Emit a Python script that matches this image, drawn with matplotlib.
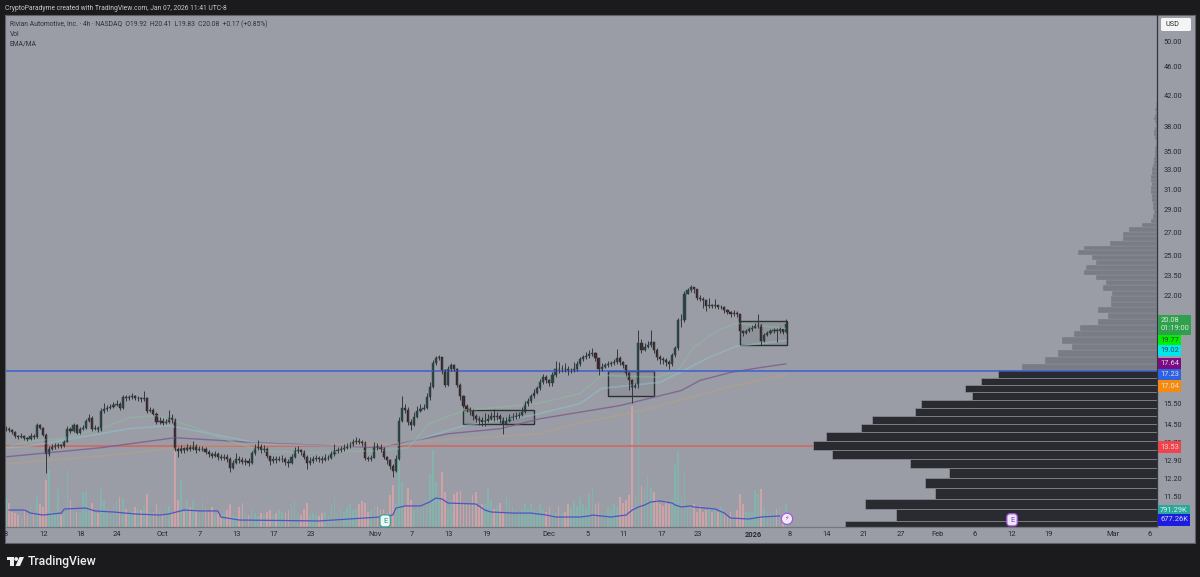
import numpy as np
import matplotlib
matplotlib.use("Agg")
import matplotlib.pyplot as plt
from matplotlib.patches import Rectangle, FancyBboxPatch, Circle, Polygon
from matplotlib.ticker import NullLocator, NullFormatter

closes = [
    14.31,14.27,14.18,13.99,13.94,13.99,13.90,13.85,13.99,13.94,
    14.50,14.36,14.04,13.20,13.42,13.50,13.54,13.58,13.54,13.72,
    14.31,14.22,14.50,14.13,14.31,14.36,14.69,14.83,14.31,14.36,
    14.27,15.17,15.27,15.32,15.37,15.47,15.52,15.32,15.83,15.78,
    15.83,15.88,15.78,15.78,15.73,15.78,15.17,15.22,15.03,14.64,
    14.69,14.59,14.64,14.83,14.73,13.42,13.33,13.46,13.37,13.50,
    13.42,13.54,13.37,13.42,13.42,13.29,13.20,13.11,13.20,13.07,
    13.03,13.07,12.99,12.61,12.81,12.99,12.94,12.85,12.90,12.81,
    13.24,13.46,13.50,13.37,13.42,13.11,12.90,12.99,12.94,12.99,
    12.99,12.85,12.81,13.07,13.33,13.37,13.29,13.07,12.81,12.90,
    12.99,13.03,12.99,12.94,13.03,13.03,13.20,13.33,13.37,13.42,
    13.46,13.54,13.58,13.72,13.76,13.72,13.67,13.03,12.99,13.03,
    13.54,13.50,13.42,13.07,12.94,12.69,12.49,12.99,14.69,15.32,
    15.22,14.64,14.50,14.88,15.17,15.27,15.32,15.83,16.35,17.69,
    17.96,18.02,17.27,16.46,17.38,17.55,17.38,16.46,15.88,15.42,
    15.27,15.17,14.93,14.78,14.73,14.64,14.69,14.78,14.93,14.88,
    14.93,14.78,14.55,14.69,14.83,14.88,14.93,14.97,15.12,15.52,
    15.67,15.88,16.08,16.30,16.62,16.90,16.72,16.57,17.00,17.38,
    17.33,17.38,17.33,17.27,17.27,17.33,17.61,17.90,18.02,18.08,
    18.20,18.26,17.96,17.38,17.49,17.55,17.61,17.67,17.73,17.96,
    17.73,17.55,17.15,16.72,16.35,16.46,18.85,18.43,18.62,18.73,
    18.91,18.43,18.02,17.90,17.84,17.73,17.61,18.14,18.56,20.32,
    20.32,22.14,22.36,22.58,22.43,21.85,21.78,21.65,21.25,21.32,
    21.25,21.32,21.19,21.19,20.99,20.86,20.72,20.79,20.72,19.60,
    19.48,19.60,19.73,19.80,19.93,19.99,18.98,19.35,19.48,19.60,
    19.67,19.60,19.73,19.54,20.08]
highs = [
    14.42,14.38,14.30,14.22,14.02,14.10,14.04,13.95,14.12,14.05,
    14.56,14.55,14.40,14.10,13.55,13.60,13.66,13.68,13.64,13.80,
    14.42,14.40,14.60,14.55,14.40,14.48,14.75,15.00,14.90,14.48,
    14.42,15.30,15.55,15.45,15.50,15.60,15.70,15.60,15.95,15.95,
    15.95,16.05,15.95,15.92,15.85,16.15,15.85,15.35,15.30,15.10,
    14.85,14.80,14.75,15.20,15.00,14.80,13.50,13.58,13.50,13.62,
    13.58,13.75,13.62,13.52,13.52,13.50,13.36,13.28,13.32,13.26,
    13.18,13.20,13.18,13.05,12.95,13.25,13.12,13.05,13.02,13.00,
    13.32,13.62,13.78,13.60,13.58,13.50,13.12,13.10,13.12,13.12,
    13.15,13.05,12.98,13.18,13.50,13.52,13.42,13.35,13.15,13.05,
    13.12,13.15,13.12,13.10,13.18,13.16,13.32,13.60,13.50,13.55,
    13.60,13.66,13.72,13.85,13.95,13.88,13.80,13.75,13.12,13.15,
    13.72,13.66,13.60,13.48,13.12,12.98,12.75,13.15,14.85,15.90,
    15.50,15.35,14.78,15.10,15.42,15.50,15.50,16.05,16.65,17.85,
    18.10,18.15,18.05,17.35,17.52,17.70,17.62,17.42,16.60,15.95,
    15.52,15.35,15.25,15.02,14.90,14.85,15.05,15.00,15.08,15.25,
    15.10,15.02,14.88,14.85,15.00,15.05,15.08,15.12,15.35,15.65,
    15.82,16.00,16.25,16.45,16.82,17.05,17.00,16.78,17.18,17.80,
    17.75,17.60,17.72,17.50,17.42,17.75,17.80,18.05,18.15,18.35,
    18.45,18.55,18.35,18.00,17.70,17.68,17.80,17.80,17.90,18.50,
    18.10,17.80,17.60,17.20,16.78,16.60,19.70,19.10,18.88,19.00,
    19.70,18.95,18.55,18.15,18.05,18.00,17.85,18.30,18.70,20.45,
    20.70,22.30,22.55,22.72,22.62,22.50,22.00,21.90,21.65,21.85,
    21.42,21.75,21.35,21.30,21.25,21.05,20.95,21.00,20.92,20.75,
    19.65,19.72,19.88,20.00,20.10,20.70,20.05,19.48,19.62,19.75,
    19.80,19.78,19.88,19.72,20.41]
lows = [
    14.22,14.18,14.05,13.90,13.85,13.90,13.82,13.76,13.80,13.86,
    13.90,14.28,13.98,12.40,13.12,13.38,13.42,13.46,13.45,13.48,
    13.70,14.12,14.18,14.05,14.08,14.25,14.30,14.62,14.20,14.25,
    14.15,14.22,15.05,15.15,15.25,15.30,15.40,15.20,15.25,15.65,
    15.70,15.75,15.68,15.65,15.60,15.65,15.05,15.08,14.95,14.55,
    14.55,14.48,14.52,14.58,14.60,13.30,13.05,13.25,13.22,13.30,
    13.30,13.38,13.25,13.30,13.32,13.18,13.08,13.00,13.05,12.95,
    12.92,12.95,12.85,12.45,12.55,12.75,12.82,12.75,12.72,12.68,
    12.75,13.15,13.35,13.25,13.28,13.00,12.72,12.80,12.82,12.88,
    12.85,12.72,12.65,12.75,13.00,13.22,13.15,12.98,12.58,12.72,
    12.80,12.90,12.85,12.80,12.88,12.92,12.98,13.10,13.22,13.28,
    13.32,13.40,13.45,13.55,13.62,13.60,13.55,12.92,12.88,12.90,
    13.00,13.38,13.28,12.98,12.75,12.55,12.25,12.45,12.95,14.62,
    15.05,14.50,14.25,14.45,14.82,15.10,15.18,15.25,15.72,16.30,
    17.55,17.85,17.10,16.38,16.40,17.25,17.22,16.35,15.72,15.30,
    15.10,14.95,14.72,14.62,14.48,14.42,14.45,14.62,14.70,14.65,
    14.72,14.60,14.08,14.50,14.62,14.72,14.78,14.82,14.92,15.05,
    15.40,15.55,15.80,16.02,16.20,16.55,16.58,16.42,16.40,16.90,
    17.15,17.18,17.20,17.00,17.12,17.18,17.25,17.50,17.82,17.90,
    18.00,18.08,17.80,17.00,17.22,17.42,17.45,17.52,17.58,17.65,
    17.60,17.40,16.95,16.20,15.55,16.30,16.30,18.30,18.40,18.55,
    18.60,18.30,17.88,17.65,17.62,17.50,17.35,17.50,18.05,18.45,
    19.85,20.20,22.10,22.25,22.15,21.70,21.60,21.15,20.95,21.15,
    21.10,21.15,21.05,21.05,20.82,20.70,20.55,20.60,20.55,19.20,
    19.30,19.42,19.55,19.62,19.78,19.80,18.78,18.92,19.28,19.40,
    19.50,18.95,19.50,19.40,19.50]
opens = [closes[0]] + closes[:-1]

# volume in thousands
volumes = [
    1900,1600,1000,900,800,600,1200,800,1400,900,
    2000,1500,1300,3100,3760,1000,900,2500,800,900,
    3760,1800,1200,1000,900,2300,2400,1300,1600,1000,
    900,2500,1800,1100,1000,1400,1700,2000,1900,1200,
    900,1000,1300,1200,1100,1400,2200,900,1000,1500,
    1100,900,1200,1400,1000,5080,1800,3100,1000,1700,
    1300,1800,1100,1000,1700,1200,1000,1300,800,900,
    800,900,1100,1500,800,700,1300,1600,900,800,
    1200,900,700,900,800,1000,1100,800,900,1100,
    1000,900,1100,1500,1700,900,800,1200,1600,800,
    900,800,700,900,1000,800,1500,2000,900,1200,
    1000,1300,1500,1100,1200,1500,1700,1600,1000,1100,
    1400,1300,1100,1200,900,2100,2800,1500,7000,3000,
    1400,2600,1800,1100,1500,1400,1300,1800,3500,5100,
    3000,2000,3600,2300,1400,1700,2200,2300,2400,1500,
    1500,1600,2100,2300,1300,1500,1500,2500,1800,1200,
    1400,1600,1000,2200,1800,1300,1100,1000,1200,1600,
    1200,1500,1200,1000,1500,1200,1000,1300,900,1000,
    1400,900,1000,1500,1300,1700,1400,2000,1500,1300,
    2200,2500,1500,1600,1000,1000,1300,1200,1500,1300,
    2000,1600,1800,2100,8000,1900,7500,2700,2500,3400,
    2600,2300,1800,1500,1400,1700,1500,1800,4100,5000,
    1900,3600,1300,1500,1500,1000,1400,1000,1100,1200,
    1000,1100,1000,1300,900,800,1000,800,1100,2200,
    1500,1000,1000,1000,2440,2200,2500,1300,1000,900,
    1000,1200,1300,900,1500]

vol_ma_bars = [1,6,8,12,18,19,26,29,35,42,50,53,58,63,69,70,76,102,112,122,126,127,130,135,138,140,142,144,153,156,158,165,171,176,179,187,190,191,197,202,204,206,208,210,213,217,218,220,223,224,231,234,236,242,246,252]
vol_ma = [1120,1120,920,790,920,1190,1250,1060,990,860,790,860,1120,1060,1060,660,460,400,530,660,790,1250,1390,1390,1650,1910,1850,1580,1520,1120,990,920,920,790,660,660,730,790,660,790,1120,1320,1450,1650,1720,1580,1450,1320,1390,1320,1190,920,590,530,660,730]

ema_green_bars = [0,8,18,31,40,49,60,70,83,96,122,131,138,149,173,187,194,212,219,224,232,238,254]
ema_green = [13.46,13.76,13.85,14.31,14.83,14.93,14.45,13.90,13.33,13.24,13.33,13.46,14.55,15.17,15.52,16.03,17.00,16.90,17.27,18.62,19.67,20.12,19.77]
ema_cyan_bars = [0,8,40,53,63,83,106,127,133,149,171,187,194,213,222,229,238,254]
ema_cyan = [13.46,13.54,14.31,14.45,14.18,13.63,13.54,13.54,13.76,14.45,14.93,15.52,16.30,16.62,17.38,18.02,18.67,19.02]
ema_purple_bars = [0,31,55,83,122,144,161,174,200,220,226,236,246,254]
ema_purple = [13.07,13.46,13.90,13.67,13.46,14.08,14.31,14.78,15.42,16.19,16.72,17.16,17.44,17.64]
ema_orange_bars = [0,31,63,122,174,186,207,235,254]
ema_orange = [12.77,13.11,13.54,13.63,14.08,14.55,15.17,16.35,17.04]

# volume profile rows, bottom up, 0.39 wide in price
profile_edge_start = 10.25
profile_step = 0.39
profile_below = [312,261,292,222,232,208,247,325,344,331,296,285,242,236,185,192,176,159]
profile_above = [135,112,99,85,95,83,77,59,49,59,46,46,45,54,51,61,73,71,61,65,79,73,47,34,34,28,15,6,
                 4,3,4,4,5,5,6,6,5,6,6,5,5,4,3,3,2,2,2,1,1,2,3,3,2,1,2,3,2,1,2,1,1]

price_ticks = [50,46,42,38,35,33,31,29,27,25,23.5,22,20.5,15.5,14.5,13.7,12.9,12.2,11.5]
time_tick_bars = [0,12.4,24.4,36.2,51.1,63.2,75.2,87.3,99.3,120.2,132.2,144.3,156.4,176.9,189.6,201.3,213.4,225.4,243.3,255.4,267.4,279.5,291.5,303.6,315.6,327.7,339.7,360.6,372.6]
time_tick_labels = ['8','12','18','24','Oct','7','13','17','23','Nov','7','13','19','Dec','5','11','17','23','2026','8','14','21','27','Feb','6','12','19','Mar','6']

boxes = [(149,172,14.55,15.22),(196,211,15.88,17.23),(239,254.5,18.73,20.25)]

# text, price level of the tag, fill, text colour
price_tags = [('19.77',19.0,'#00ee00','#2a4a2a'),('19.02',18.42,'#00e5ee','#2a4a5a'),('17.64',17.64,'#7b0a85','#e8d8ea'),
              ('17.23',17.05,'#2f62e0','#d8e0f5'),('17.04',16.42,'#f58a0f','#f3e0c8'),('13.53',13.48,'#f0444c','#f8d0d0')]
vol_tags = [('791.29K',10.98,'#2aa89c','#d8f0ee'),('677.26K',10.66,'#1c1ce0','#d8d8f5')]

PANEL = '#9b9da6'
DARK = '#1b1b1d'
W, H = 1200, 577
plt.rcParams['font.family'] = ['Roboto', 'DejaVu Sans']

fig = plt.figure(figsize=(12, 5.77), dpi=100, facecolor=DARK)

def rect(x0, y0, x1, y1):
    # pixel box, y measured from the top
    return [x0 / W, (H - y1) / H, (x1 - x0) / W, (y1 - y0) / H]

bg = fig.add_axes(rect(5, 15, 1195, 543), facecolor=PANEL)
bg.set_xticks([])
bg.set_yticks([])
for s in bg.spines.values():
    s.set_color('#5f6167')
    s.set_linewidth(0.8)

chart_box = rect(6, 15, 1157, 527)
xmax = 1151 / 3.07
price_lim = (10.42, 54.4)

# volume
ax_vol = fig.add_axes(chart_box, facecolor='none', zorder=1)
ax_vol.set_xlim(0, xmax)
ax_vol.set_ylim(0, 33792)
ax_vol.axis('off')
bars = np.arange(len(closes))
up = np.array(closes) >= np.array(opens)
vol_colors = ['#82b3ad' if u else '#cfa3a6' for u in up]
ax_vol.bar(bars, volumes, width=0.55, color=vol_colors, linewidth=0)
ax_vol.plot(vol_ma_bars, vol_ma, color='#4b56c4', lw=0.9)

# volume profile
ax_vp = fig.add_axes(chart_box, facecolor='none', zorder=2)
ax_vp.set_xlim(1151, 0)
ax_vp.set_yscale('log')
ax_vp.set_ylim(*price_lim)
ax_vp.axis('off')
ax_vp.axhline(13.53, color='#d2675f', lw=1.4, alpha=0.85, zorder=1)
y_below = profile_edge_start + profile_step * np.arange(len(profile_below))
y_above = profile_edge_start + profile_step * (len(profile_below) + np.arange(len(profile_above)))
ax_vp.barh(y_below, profile_below, height=profile_step, align='edge', color='#2a2b30', edgecolor='#8b8d95', linewidth=0.5, zorder=2)
ax_vp.barh(y_above, profile_above, height=profile_step, align='edge', color='#7a7c85', edgecolor=PANEL, linewidth=0.25, zorder=2)

# candles and price scale
ax = fig.add_axes(chart_box, facecolor='none', zorder=3)
ax.set_yscale('log')
ax.set_xlim(0, xmax)
ax.set_ylim(*price_lim)
for name, s in ax.spines.items():
    s.set_visible(name in ('right', 'bottom'))
    s.set_color('#33353c')
    s.set_linewidth(0.9)
ax.spines['bottom'].set_color('#74767d')

for xs, ys, c, a, lw in [(ema_orange_bars, ema_orange, '#b9a083', 0.55, 1.2),
                         (ema_purple_bars, ema_purple, '#7b5a8c', 0.8, 1.0),
                         (ema_cyan_bars, ema_cyan, '#8fc3cc', 0.5, 1.2),
                         (ema_green_bars, ema_green, '#8dbb9f', 0.5, 1.2)]:
    ax.plot(xs, ys, color=c, alpha=a, lw=lw)

ax.axhline(17.23, color='#3d5ed2', lw=1.1)

candle_colors = ['#274a44' if u else '#3a2428' for u in up]
ax.vlines(bars, lows, highs, colors='#34383c', lw=0.7)
body_low = np.minimum(opens, closes)
body_h = np.abs(np.array(closes) - np.array(opens))
ax.bar(bars, body_h, bottom=body_low, width=0.7, color=candle_colors, edgecolor=candle_colors, linewidth=0.35)

for x0, x1, p0, p1 in boxes:
    ax.add_patch(Rectangle((x0, p0), x1 - x0, p1 - p0, edgecolor='#28332f', lw=1.0, fill=False))
    ax.add_patch(Rectangle((x0, p0), x1 - x0, p1 - p0, facecolor='#2a3a38', alpha=0.1, lw=0))

ax.yaxis.tick_right()
ax.yaxis.set_minor_locator(NullLocator())
ax.yaxis.set_minor_formatter(NullFormatter())
ax.set_yticks(price_ticks)
ax.set_yticklabels(['%.2f' % p for p in price_ticks], fontsize=5.3, color='#26282f')
ax.tick_params(axis='y', length=0, pad=4.5)
ax.set_xticks(time_tick_bars)
ax.set_xticklabels(time_tick_labels, fontsize=5.4, color='#26282f')
ax.tick_params(axis='x', length=0, pad=3)
for t in ax.get_xticklabels():
    if t.get_text() == '2026':
        t.set_fontweight('bold')

# tags on the price scale
yt = ax.get_yaxis_transform()
ax.text(1.0028, 20.02, '20.08\n01:19:00', transform=yt, ha='left', va='center', fontsize=5.4, color='#d5ecd8', linespacing=1.3,
        bbox=dict(boxstyle='square,pad=0.3', fc='#30a04e', ec='none'), clip_on=False, zorder=6)
for txt, pos, fc, tc in price_tags + vol_tags:
    ax.text(1.0028, pos, txt, transform=yt, ha='left', va='center', fontsize=5.4, color=tc,
            bbox=dict(boxstyle='square,pad=0.3', fc=fc, ec='none'), clip_on=False, zorder=6)

# earnings / dividend markers
xt = ax.get_xaxis_transform()
ax.text(123.5, 0.012, 'E', transform=xt, ha='center', va='center', fontsize=5.5, color='#2f8f86',
        bbox=dict(boxstyle='round,pad=0.4', fc='#f2f4f6', ec='#2fa596', lw=0.9), zorder=7)
ax.text(327.7, 0.014, 'E', transform=xt, ha='center', va='center', fontsize=5.5, color='#7a3fc0',
        bbox=dict(boxstyle='round,pad=0.4', fc='#f0e6fa', ec='#a35ad8', lw=0.9), zorder=7)
ax.text(254.4, 0.016, '\u26a1', transform=xt, ha='center', va='center', fontsize=4.5, color='#7a3fc0',
        bbox=dict(boxstyle='circle,pad=0.5', fc='#f2eaf8', ec='#a35ad8', lw=0.9), zorder=7, clip_on=False)

# top texts, usd button, logo
fig.text(5 / W, 1 - 8 / H, 'CryptoParadyme created with TradingView.com, Jan 07, 2026 11:41 UTC-8', fontsize=4.9, color='#c9cacc', va='center')
fig.text(10 / W, 1 - 24 / H, 'Rivian Automotive, Inc. \u00b7 4h \u00b7 NASDAQ  O19.92  H20.41  L19.83  C20.08  +0.17 (+0.85%)', fontsize=4.9, color='#2e3138', va='center', zorder=8)
fig.text(10 / W, 1 - 34 / H, 'Vol', fontsize=4.9, color='#2e3138', va='center', zorder=8)
fig.text(10 / W, 1 - 44 / H, 'EMA/MA', fontsize=4.9, color='#2e3138', va='center', zorder=8)

fig.add_artist(FancyBboxPatch((1161 / W, 1 - 31 / H), 30 / W, 13 / H, boxstyle='round,pad=0,rounding_size=0.002',
                              transform=fig.transFigure, fc='#f4f4f5', ec='none', zorder=8))
fig.text(1165 / W, 1 - 24.5 / H, 'USD', fontsize=5.2, color='#2a2c33', va='center', zorder=9)

logo = fig.add_axes(rect(7, 556, 24, 566), facecolor='none')
logo.set_xlim(0, 17)
logo.set_ylim(10, 0)
logo.axis('off')
logo.add_patch(Rectangle((0, 1), 7, 3.4, fc='#eeeeee', ec='none'))
logo.add_patch(Rectangle((3, 1), 3.8, 9, fc='#eeeeee', ec='none'))
logo.add_patch(Circle((9.2, 3), 1.9, fc='#eeeeee', ec='none'))
logo.add_patch(Polygon([(12.5, 1), (17, 1), (13, 10), (8.5, 10)], fc='#eeeeee', ec='none'))
fig.text(28 / W, 1 - 561 / H, 'TradingView', fontsize=8.8, color='#eeeeee', va='center', fontweight='medium')

fig.savefig('out.png', dpi=100, facecolor=DARK)
